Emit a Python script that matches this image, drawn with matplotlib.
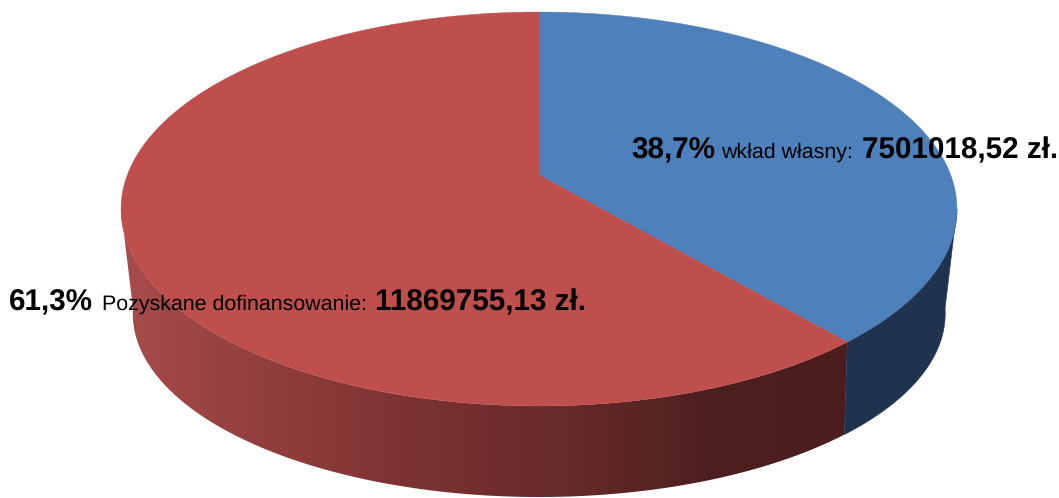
import matplotlib
matplotlib.use('Agg')
import matplotlib.pyplot as plt
import numpy as np
from matplotlib.colors import LinearSegmentedColormap
from matplotlib.patches import Polygon

plt.rcParams['text.hinting'] = 'no_hinting'
plt.rcParams['text.hinting_factor'] = 8

# chart data
categories = ['wkład własny:', 'Pozyskane dofinansowanie:']
amounts = [7501018.52, 11869755.13]
amount_labels = ['7501018,52 zł.', '11869755,13 zł.']
percent_labels = ['38,7%', '61,3%']

top_colors = ['#4E80BC', '#BE4F4C']
side_blue = '#1F334F'
side_red = LinearSegmentedColormap.from_list(
    'side_red', ['#A54B49', '#8E3D3B', '#7A3131', '#672A2A', '#4E1F1F', '#4B1D1D'])


def project(angle, cx, cy, a, b, k):
    # angle in radians, clockwise from the back of the disk; perspective view
    X, Y = np.sin(angle), np.cos(angle)
    d = 1 + k * Y
    return cx + b * X / d, cy + a * Y / d


def side_outline(t0, t1):
    ts = np.linspace(t0, t1, 300)
    x0, y0 = project(ts, **top_disk)
    x1, y1 = project(ts[::-1], **bottom_disk)
    return np.column_stack([np.r_[x0, x1], np.r_[y0, y1]])


top_disk = dict(cx=539, cy=175, a=-191.1, b=411.7, k=0.1726)
bottom_disk = dict(cx=539, cy=277, a=-176, b=398, k=0.2)

fig = plt.figure(figsize=(10.59, 4.98), dpi=100)
ax = fig.add_axes([0, 0, 1, 1])
ax.axis('off')

fractions = np.array(amounts) / sum(amounts)
edges = np.concatenate([[0], np.cumsum(fractions)]) * 2 * np.pi
# rim points where the disk is widest, the wall is hidden beyond them
tangent = np.arcsin(top_disk['k'])
vis0, vis1 = np.pi / 2 + tangent, 3 * np.pi / 2 - tangent

# side wall: shading runs left to right in vertical bands
bands = np.arange(120, 860, 14)
shade = np.clip((bands - 130) / (850 - 130), 0, 1)[None, :]
im = ax.imshow(shade, cmap=side_red, vmin=0, vmax=1, aspect='auto',
               extent=(bands[0], bands[-1] + 14, 498, 0),
               interpolation='nearest', zorder=1)
clip = Polygon(side_outline(edges[1], vis1), closed=True, transform=ax.transData)
im.set_clip_path(clip)
ax.add_patch(Polygon(side_outline(vis0, edges[1]), closed=True, fc=side_blue,
                     ec=side_blue, lw=0.4, zorder=1))

# top surface
for i in range(len(amounts)):
    ts = np.linspace(edges[i], edges[i + 1], 300)
    x, y = project(ts, **top_disk)
    ax.fill(np.r_[top_disk['cx'], x], np.r_[top_disk['cy'], y],
            color=top_colors[i], lw=0.3, zorder=2)

ax.set_xlim(0, 1059)
ax.set_ylim(498, 0)

# labels: percent, name, amount
lab_pos = [(631, 158, 721, 862), (9, 310, 102, 375)]
for i in range(len(amounts)):
    xp, yb, xn, xa = lab_pos[i]
    ax.text(xp, yb, percent_labels[i], family='Liberation Sans', weight='bold',
            fontsize=21.3, va='baseline', color='black', zorder=3)
    ax.text(xn, yb, categories[i], family='Liberation Sans',
            fontsize=15.4, va='baseline', color='black', zorder=3)
    ax.text(xa, yb, amount_labels[i], family='Liberation Sans', weight='bold',
            fontsize=21.3, va='baseline', color='black', zorder=3)

fig.savefig('out.png', dpi=100)
